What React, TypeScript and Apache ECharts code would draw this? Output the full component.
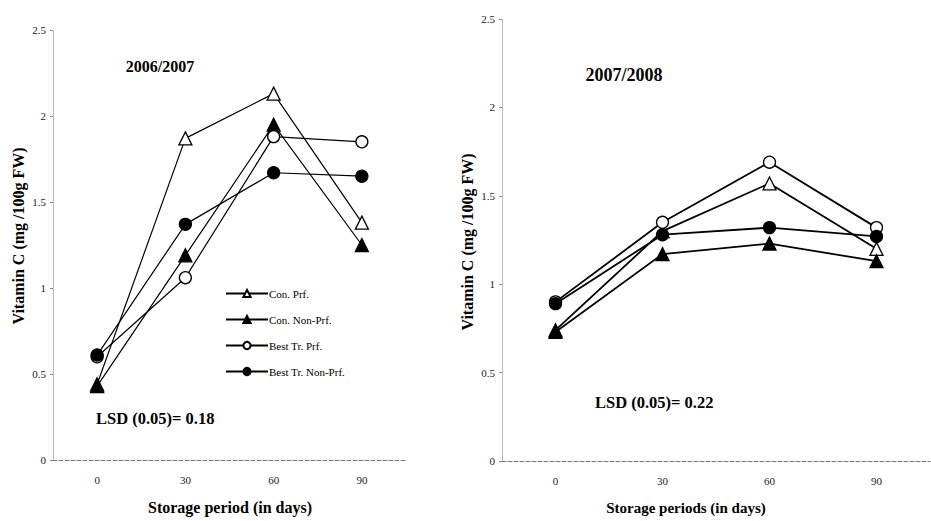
import React, { useEffect, useRef } from "react";
import * as echarts from "echarts";

const days = ["0", "30", "60", "90"];
const seriesNames = ["Con. Prf.", "Con. Non-Prf.", "Best Tr. Prf.", "Best Tr. Non-Prf."];

// 2006/2007
const conPrf1 = [0.44, 1.87, 2.13, 1.38];
const conNon1 = [0.43, 1.19, 1.95, 1.25];
const bestPrf1 = [0.6, 1.06, 1.88, 1.85];
const bestNon1 = [0.61, 1.37, 1.67, 1.65];

// 2007/2008
const conPrf2 = [0.74, 1.3, 1.57, 1.2];
const conNon2 = [0.73, 1.17, 1.23, 1.13];
const bestPrf2 = [0.9, 1.35, 1.69, 1.32];
const bestNon2 = [0.89, 1.28, 1.32, 1.27];

const SERIF = "'Liberation Serif', 'DejaVu Serif', serif";

const symbolFor = ["triangle", "triangle", "circle", "circle"];
const filledFor = [false, true, false, true];

function mkSeries(idx: number, data: number[], k: number, lw: number) {
  return {
    type: "line",
    name: seriesNames[k],
    xAxisIndex: idx,
    yAxisIndex: idx,
    data,
    symbol: symbolFor[k],
    symbolSize: symbolFor[k] === "triangle" ? 13 : 12,
    showAllSymbol: true,
    lineStyle: { color: "#000", width: lw },
    itemStyle: {
      color: filledFor[k] ? "#000" : "#fff",
      borderColor: "#000",
      borderWidth: 1.3,
    },
    z: 3 + k,
  };
}

export default function App() {
  const ref = useRef<HTMLDivElement>(null);
  useEffect(() => {
    if (!ref.current) return;
    const chart = echarts.init(ref.current, null, { renderer: "svg" });
    const xAxisBase = {
      type: "category",
      data: days,
      boundaryGap: true,
      axisLine: { show: true, lineStyle: { color: "#777", type: "dashed", width: 1 } },
      axisTick: { show: false },
      axisLabel: { fontFamily: SERIF, fontSize: 11, color: "#222", margin: 14 },
    };
    const yAxisBase = {
      type: "value",
      min: 0,
      max: 2.5,
      interval: 0.5,
      axisLine: { show: true, lineStyle: { color: "#aaa", type: "dotted", width: 1 } },
      axisTick: { show: true, length: 3, lineStyle: { color: "#888" } },
      splitLine: { show: false },
      axisLabel: { fontFamily: SERIF, fontSize: 11, color: "#222", margin: 7 },
    };
    const option: any = {
      animation: false,
      backgroundColor: "#fff",
      grid: [
        { left: 53, top: 30, width: 353, height: 430 },
        { left: 502, top: 19, width: 428, height: 442 },
      ],
      xAxis: [
        { ...xAxisBase, gridIndex: 0 },
        { ...xAxisBase, gridIndex: 1 },
      ],
      yAxis: [
        { ...yAxisBase, gridIndex: 0 },
        { ...yAxisBase, gridIndex: 1 },
      ],
      legend: {
        left: 220,
        top: 283,
        orient: "vertical",
        itemWidth: 42,
        itemHeight: 9,
        itemGap: 15,
        data: seriesNames,
        textStyle: { fontFamily: SERIF, fontSize: 11, color: "#000", padding: [0, 0, 0, -4] },
        selectedMode: false,
      },
      series: [
        mkSeries(0, conPrf1, 0, 1.2),
        mkSeries(0, conNon1, 1, 1.2),
        mkSeries(0, bestPrf1, 2, 1.2),
        mkSeries(0, bestNon1, 3, 1.2),
        mkSeries(1, conPrf2, 0, 1.8),
        mkSeries(1, conNon2, 1, 1.8),
        mkSeries(1, bestPrf2, 2, 1.8),
        mkSeries(1, bestNon2, 3, 1.8),
      ],
      graphic: [
        {
          type: "text",
          x: 160,
          y: 66,
          style: { text: "2006/2007", font: `bold 16px ${SERIF}`, fill: "#000", textAlign: "center", textVerticalAlign: "middle" },
        },
        {
          type: "text",
          x: 624,
          y: 75,
          style: { text: "2007/2008", font: `bold 18px ${SERIF}`, fill: "#000", textAlign: "center", textVerticalAlign: "middle" },
        },
        {
          type: "text",
          x: 96,
          y: 418,
          style: { text: "LSD (0.05)= 0.18", font: `bold 16.5px ${SERIF}`, fill: "#000", textAlign: "left", textVerticalAlign: "middle" },
        },
        {
          type: "text",
          x: 595,
          y: 402,
          style: { text: "LSD (0.05)= 0.22", font: `bold 16.5px ${SERIF}`, fill: "#000", textAlign: "left", textVerticalAlign: "middle" },
        },
        {
          type: "text",
          x: 230,
          y: 507,
          style: { text: "Storage period (in days)", font: `bold 16px ${SERIF}`, fill: "#000", textAlign: "center", textVerticalAlign: "middle" },
        },
        {
          type: "text",
          x: 686,
          y: 508,
          style: { text: "Storage periods (in days)", font: `bold 15px ${SERIF}`, fill: "#000", textAlign: "center", textVerticalAlign: "middle" },
        },
        {
          type: "text",
          x: 18,
          y: 236,
          rotation: Math.PI / 2,
          style: { text: "Vitamin C (mg /100g FW)", font: `bold 16px ${SERIF}`, fill: "#000", textAlign: "center", textVerticalAlign: "middle" },
        },
        {
          type: "text",
          x: 467,
          y: 242,
          rotation: Math.PI / 2,
          style: { text: "Vitamin C (mg /100g FW)", font: `bold 16px ${SERIF}`, fill: "#000", textAlign: "center", textVerticalAlign: "middle" },
        },
      ],
    };
    chart.setOption(option);
    return () => chart.dispose();
  }, []);
  return <div ref={ref} style={{ position: "fixed", left: 0, top: 0, width: 931, height: 521 }} />;
}
